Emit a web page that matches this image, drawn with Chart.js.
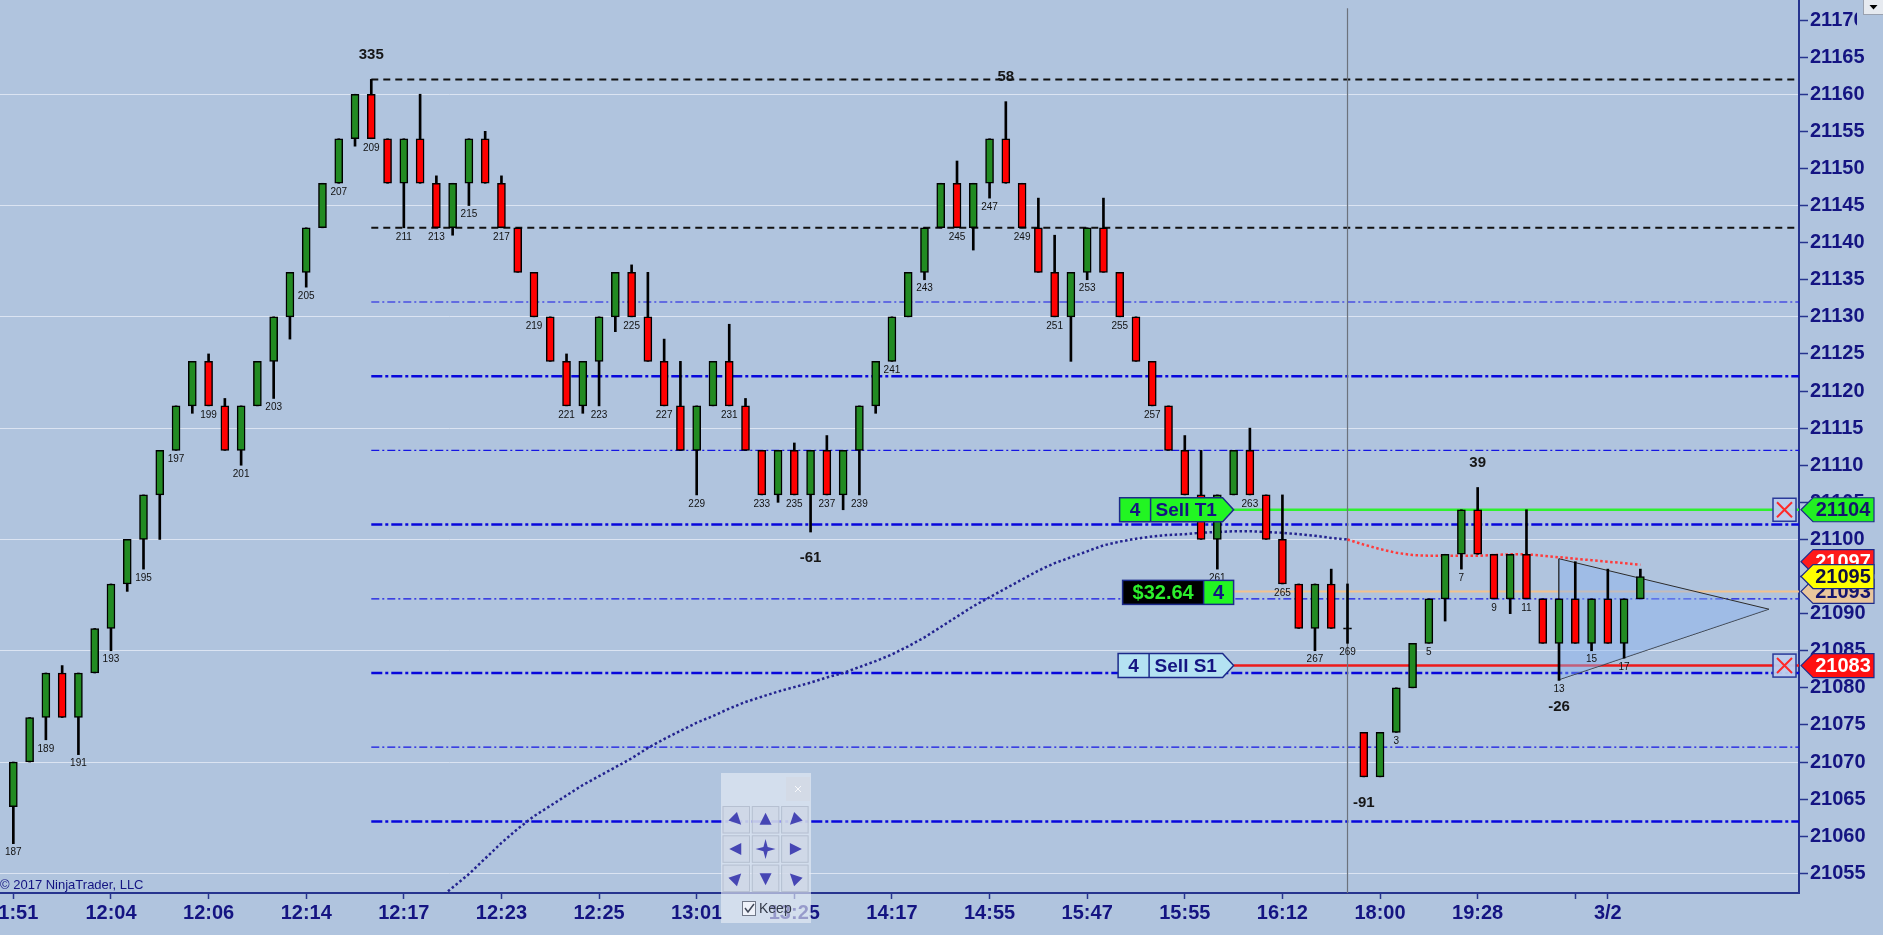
<!DOCTYPE html>
<html>
<head>
<meta charset="utf-8">
<script src="https://cdn.jsdelivr.net/npm/chart.js@4.4.0/dist/chart.umd.min.js"></script>
<style>
html, body { margin: 0; padding: 0; background: #b0c4de; overflow: hidden; }
#wrap { position: relative; width: 1883px; height: 935px; }
</style>
</head>
<body>
<div id="wrap"><canvas id="chart" width="1883" height="935"></canvas></div>
<script>
// candle data (bars 187..269 of the first session, then 1..18 of the next)
const opens  = [21064,21070,21076,21082,21076,21082,21088,21094,21100,21106,21112,21118,21124,21118,21112,21118,21124,21130,21136,21142,
                21148,21154,21160,21154,21148,21154,21148,21142,21148,21154,21148,21142,21136,21130,21124,21118,21124,21130,21136,21130,
                21124,21118,21112,21118,21124,21118,21112,21106,21112,21106,21112,21106,21112,21118,21124,21130,21136,21142,21148,21142,
                21148,21154,21148,21142,21136,21130,21136,21142,21136,21130,21124,21118,21112,21106,21100,21106,21112,21106,21100,21094,
                21088,21094,21088,21074,21068,21074,21080,21086,21092,21098,21104,21098,21092,21098,21092,21086,21092,21086,21092,21086,
                21092];
const closes = [21070,21076,21082,21076,21082,21088,21094,21100,21106,21112,21118,21124,21118,21112,21118,21124,21130,21136,21142,21148,
                21154,21160,21154,21148,21154,21148,21142,21148,21154,21148,21142,21136,21130,21124,21118,21124,21130,21136,21130,21124,
                21118,21112,21118,21124,21118,21112,21106,21112,21106,21112,21106,21112,21118,21124,21130,21136,21142,21148,21142,21148,
                21154,21148,21142,21136,21130,21136,21142,21136,21130,21124,21118,21112,21106,21100,21106,21112,21106,21100,21094,21088,
                21094,21088,21088,21068,21074,21080,21086,21092,21098,21104,21098,21092,21098,21092,21086,21092,21086,21092,21086,21092,
                21095];
const highs  = [21070,21076,21082,21083,21082,21088,21094,21100,21106,21112,21118,21124,21125,21119,21118,21124,21130,21136,21142,21148,
                21154,21160,21162,21154,21154,21160,21149,21148,21154,21155,21149,21142,21136,21130,21125,21124,21130,21136,21137,21136,
                21127,21124,21118,21124,21129,21119,21112,21112,21113,21112,21114,21112,21118,21124,21130,21136,21142,21148,21151,21148,
                21154,21159,21148,21146,21141,21136,21142,21146,21136,21130,21124,21118,21114,21112,21106,21112,21115,21106,21106,21094,
                21094,21096,21094,21074,21074,21080,21086,21092,21098,21104,21107,21098,21098,21104,21092,21092,21097,21092,21096,21092,
                21096];
const lows   = [21059,21070,21073,21076,21071,21082,21085,21093,21096,21100,21112,21117,21118,21112,21110,21118,21119,21127,21134,21142,
                21148,21153,21154,21148,21142,21148,21142,21141,21145,21148,21142,21136,21130,21124,21118,21117,21118,21128,21130,21124,
                21118,21112,21106,21118,21118,21112,21106,21105,21106,21101,21106,21104,21106,21117,21124,21130,21135,21142,21142,21139,
                21146,21148,21142,21136,21130,21124,21135,21136,21130,21124,21118,21112,21106,21100,21096,21106,21106,21100,21094,21088,
                21085,21088,21086,21068,21068,21074,21080,21086,21089,21096,21098,21092,21090,21092,21086,21081,21086,21085,21086,21084,
                21092];
const firstBarNumber = 187;
const sessionBreakBar = 82;

// moving average (blue up to the session break, red after it)
const maBlueStart = 26;
const maBlue = [21051.3,21053.1,21054.9,21057.0,21059.1,21061.0,21062.7,21064.1,21065.5,21066.9,21068.1,21069.3,21070.5,21071.9,
                21073.1,21074.2,21075.3,21076.2,21077.2,21078.1,21078.8,21079.5,21080.1,21080.7,21081.4,21082.0,21082.8,21083.6,
                21084.5,21085.6,21086.8,21088.2,21089.6,21091.0,21092.2,21093.4,21094.6,21095.8,21096.8,21097.6,21098.4,21099.2,
                21099.7,21100.1,21100.4,21100.6,21100.7,21100.9,21101.0,21101.1,21101.1,21101.0,21100.9,21100.7,21100.5,21100.2,21100.0];
const maRedStart = 82;
const maRed = [21100.0,21099.3,21098.7,21098.2,21097.9,21097.8,21097.8,21097.8,21097.8,21097.9,21098.0,21098.0,21097.8,
               21097.6,21097.4,21097.2,21097.0,21096.8,21096.6];

// x axis tick labels
const xTickBars = [0, 6, 12, 18, 24, 30, 36, 42, 48, 54, 60, 66, 72, 78, 84, 90, 96, 98];
const xTickLabels = ['11:51','12:04','12:06','12:14','12:17','12:23','12:25','13:01','13:25','14:17','14:55','15:47','15:55','16:12','18:00','19:28','','3/2'];

// drawn levels
const levelStartBar = 22;
const blackLevels = [21162, 21142];
const blueThickLevels = [21122, 21102, 21082, 21062];
const blueThinLevels = [21132, 21112, 21092, 21072];
const tradeStartBar = 75;
const targetPrice = 21104, stopPrice = 21083, avgPrice = 21093;

// triangle drawing
const triLeftBar = 95, triTipBar = 107.9;
const triTop = 21097.4, triBottom = 21081.1, triTip = 21090.6;

const swingLabels = [
  {bar: 22, text: '335', high: true}, {bar: 61, text: '58', high: true}, {bar: 90, text: '39', high: true},
  {bar: 49, text: '-61', high: false}, {bar: 83, text: '-91', high: false}, {bar: 95, text: '-26', high: false}
];

const priceTags = [
  {v: 21093, fill: '#e9c69c', text: '#14146e'},
  {v: 21097, fill: '#ff1a1a', text: '#ffffff'},
  {v: 21095, fill: '#ffff00', text: '#101040'},
  {v: 21104, fill: '#22f022', text: '#14146e'},
  {v: 21083, fill: '#ff1010', text: '#ffffff'}
];

const xMin = -0.82, xMax = 109.75, yMin = 21052.35, yMax = 21172.7;
const navy = '#141482';
const axisNavy = '#26348e';

function seg(v, from, to) {
  return [{x: from, y: v}, {x: to, y: v}];
}

function lineSet(data, color, width, dash, order, extra) {
  return Object.assign({
    type: 'line', data: data, borderColor: color, borderWidth: width, borderDash: dash,
    pointRadius: 0, fill: false, tension: 0, order: order, borderCapStyle: 'butt'
  }, extra || {});
}

const datasets = [];
blackLevels.forEach(v => datasets.push(lineSet(seg(v, levelStartBar, xMax), '#111111', 2, [7, 5], 20)));
blueThickLevels.forEach(v => datasets.push(lineSet(seg(v, levelStartBar, xMax), '#0808dc', 2.5, [11, 3, 3, 3], 20)));
blueThinLevels.forEach(v => datasets.push(lineSet(seg(v, levelStartBar, xMax), '#1414e4', 1.2, [8, 3, 2, 3], 20)));
datasets.push(lineSet(seg(avgPrice, tradeStartBar, xMax), '#f2c28e', 2, [], 19));
datasets.push(lineSet(seg(targetPrice, tradeStartBar, xMax), '#2ef02e', 2.5, [], 19));
datasets.push(lineSet(seg(stopPrice, tradeStartBar, xMax), '#ee1a1a', 2.5, [], 19));
datasets.push(lineSet([{x: sessionBreakBar, y: 21171.6}, {x: sessionBreakBar, y: yMin}], '#6c727c', 1.2, [], 18));
datasets.push(lineSet([{x: triLeftBar, y: triTop}, {x: triTipBar, y: triTip}], '#2b2b2b', 1, [], 15,
  {fill: '+1', backgroundColor: 'rgba(140,180,240,0.45)'}));
datasets.push(lineSet([{x: triLeftBar, y: triBottom}, {x: triTipBar, y: triTip}], '#2b2b2b', 1, [], 15));
datasets.push(lineSet([{x: triLeftBar, y: triTop}, {x: triLeftBar, y: triBottom}], '#2b2b2b', 1, [], 15));
datasets.push(lineSet(maBlue.map((v, k) => ({x: maBlueStart + k, y: v})), '#23238f', 2.5, [2.5, 2.5], 12));
datasets.push(lineSet(maRed.map((v, k) => ({x: maRedStart + k, y: v})), '#ff3b3b', 2.5, [2.5, 2.5], 12));

// wicks and bodies
datasets.push({
  type: 'bar', data: closes.map((c, i) => ({x: i, y: [lows[i], highs[i]]})),
  backgroundColor: '#000', barThickness: 2, grouped: false, order: 5
});
datasets.push({
  type: 'bar',
  data: closes.map((c, i) => ({x: i, y: c === opens[i] ? [c - 0.1, c + 0.1] : [opens[i], c]})),
  backgroundColor: ctx => {
    const i = ctx.dataIndex;
    if (closes[i] > opens[i]) return '#228b22';
    if (closes[i] < opens[i]) return '#ff0000';
    return '#000';
  },
  borderColor: '#000', borderWidth: 1.5, borderSkipped: false, barThickness: 8, grouped: false, order: 4
});

function poly(ctx, pts, fill, stroke, lw) {
  ctx.beginPath();
  pts.forEach((p, k) => k ? ctx.lineTo(p[0], p[1]) : ctx.moveTo(p[0], p[1]));
  ctx.closePath();
  ctx.fillStyle = fill;
  ctx.fill();
  if (stroke) { ctx.strokeStyle = stroke; ctx.lineWidth = lw || 1.5; ctx.stroke(); }
}

function arrowBox(ctx, left, tip, cy, fill) {
  const r = tip - 11;
  poly(ctx, [[left, cy - 12], [r, cy - 12], [tip, cy], [r, cy + 12], [left, cy + 12]], fill, '#1c2a8a', 1.5);
}

function drawWidget(ctx) {
  ctx.fillStyle = 'rgba(232,237,247,0.62)';
  ctx.fillRect(721, 773, 90, 150);
  ctx.fillStyle = 'rgba(212,218,230,0.9)';
  ctx.fillRect(786, 777, 24, 24);
  ctx.strokeStyle = 'rgba(255,255,255,0.8)';
  ctx.lineWidth = 1;
  ctx.beginPath();
  ctx.moveTo(795, 786); ctx.lineTo(801, 792); ctx.moveTo(801, 786); ctx.lineTo(795, 792);
  ctx.stroke();
  const dirs = [Math.PI / 4, -Math.PI / 2, 3 * Math.PI / 4, Math.PI, null, 0, -Math.PI / 4, Math.PI / 2, -3 * Math.PI / 4];
  for (let r = 0; r < 3; r++) {
    for (let c = 0; c < 3; c++) {
      const bx = 722.5 + c * 29.3, by = 806 + r * 29.3;
      ctx.fillStyle = 'rgba(205,214,230,0.75)';
      ctx.fillRect(bx, by, 27.5, 27.5);
      ctx.strokeStyle = 'rgba(178,188,206,0.9)';
      ctx.strokeRect(bx + 0.5, by + 0.5, 26.5, 26.5);
      const cx = bx + 13.75, cy = by + 13.75;
      const a = dirs[r * 3 + c];
      ctx.fillStyle = '#4646b4';
      ctx.beginPath();
      if (a === null) {
        for (let k = 0; k < 8; k++) {
          const ang = k * Math.PI / 4 - Math.PI / 2;
          const rad = k % 2 === 0 ? 10 : 3;
          const px = cx + Math.cos(ang) * rad, py = cy + Math.sin(ang) * rad;
          k ? ctx.lineTo(px, py) : ctx.moveTo(px, py);
        }
      } else {
        const ca = Math.cos(a), sa = Math.sin(a);
        ctx.moveTo(cx + ca * 7, cy + sa * 7);
        ctx.lineTo(cx - ca * 5 - sa * 6, cy - sa * 5 + ca * 6);
        ctx.lineTo(cx - ca * 5 + sa * 6, cy - sa * 5 - ca * 6);
      }
      ctx.closePath();
      ctx.fill();
    }
  }
  ctx.fillStyle = 'rgba(245,247,252,0.8)';
  ctx.fillRect(742, 901, 14, 15);
  ctx.strokeStyle = '#707888';
  ctx.strokeRect(742.5, 901.5, 13, 14);
  ctx.strokeStyle = '#404858';
  ctx.lineWidth = 1.5;
  ctx.beginPath();
  ctx.moveTo(745, 908); ctx.lineTo(748, 912); ctx.lineTo(754, 904);
  ctx.stroke();
  ctx.fillStyle = '#333a48';
  ctx.font = '14px Arial';
  ctx.textAlign = 'left';
  ctx.textBaseline = 'middle';
  ctx.fillText('Keep', 759, 909);
}

const decor = {
  id: 'decor',
  afterDatasetsDraw(chart) {
    const {ctx, scales: {x, y}} = chart;
    ctx.save();
    ctx.textAlign = 'center';
    ctx.textBaseline = 'middle';
    ctx.font = '10px Arial';
    ctx.fillStyle = '#111';
    closes.forEach((c, i) => {
      const n = i <= sessionBreakBar ? firstBarNumber + i : i - sessionBreakBar;
      if (n % 2 === 0 || n === 1) return;
      ctx.fillText(String(n), x.getPixelForValue(i), y.getPixelForValue(lows[i]) + 9);
    });
    ctx.font = 'bold 15px Arial';
    ctx.fillStyle = '#161616';
    swingLabels.forEach(s => {
      const py = s.high ? y.getPixelForValue(highs[s.bar]) - 25 : y.getPixelForValue(lows[s.bar]) + 26;
      ctx.fillText(s.text, x.getPixelForValue(s.bar), py);
    });
    ctx.restore();
  },
  afterDraw(chart) {
    const {ctx, scales: {x, y}} = chart;
    ctx.save();
    const tip = x.getPixelForValue(tradeStartBar);
    ctx.textBaseline = 'middle';

    // Sell T1
    let cy = y.getPixelForValue(targetPrice);
    arrowBox(ctx, tip - 114, tip, cy, '#22f522');
    ctx.strokeStyle = '#1c2a8a'; ctx.lineWidth = 1.5;
    ctx.beginPath(); ctx.moveTo(tip - 83, cy - 12); ctx.lineTo(tip - 83, cy + 12); ctx.stroke();
    ctx.font = 'bold 19px Arial'; ctx.fillStyle = navy;
    ctx.textAlign = 'center'; ctx.fillText('4', tip - 98.5, cy + 1);
    ctx.textAlign = 'left'; ctx.fillText('Sell T1', tip - 78, cy + 1);

    // position PnL
    cy = y.getPixelForValue(avgPrice) + 1;
    ctx.fillStyle = '#000'; ctx.fillRect(tip - 111, cy - 12, 81, 24);
    ctx.fillStyle = '#22f522'; ctx.fillRect(tip - 30, cy - 12, 30, 24);
    ctx.strokeStyle = '#1c2a8a'; ctx.strokeRect(tip - 111, cy - 12, 111, 24);
    ctx.beginPath(); ctx.moveTo(tip - 30, cy - 12); ctx.lineTo(tip - 30, cy + 12); ctx.stroke();
    ctx.font = 'bold 20px Arial'; ctx.textAlign = 'center';
    ctx.fillStyle = '#2cf02c'; ctx.fillText('$32.64', tip - 70.5, cy + 1);
    ctx.fillStyle = navy; ctx.fillText('4', tip - 15, cy + 1);

    // Sell S1
    cy = y.getPixelForValue(stopPrice);
    arrowBox(ctx, tip - 115.5, tip, cy, '#b4e2f2');
    ctx.strokeStyle = '#1c2a8a';
    ctx.beginPath(); ctx.moveTo(tip - 84.5, cy - 12); ctx.lineTo(tip - 84.5, cy + 12); ctx.stroke();
    ctx.font = 'bold 19px Arial'; ctx.fillStyle = navy;
    ctx.textAlign = 'center'; ctx.fillText('4', tip - 100, cy + 1);
    ctx.textAlign = 'left'; ctx.fillText('Sell S1', tip - 79, cy + 1);

    // cancel boxes
    [targetPrice, stopPrice].forEach(v => {
      const c = y.getPixelForValue(v);
      ctx.fillStyle = 'rgba(188,204,236,0.95)';
      ctx.fillRect(1773, c - 11.5, 23, 23);
      ctx.strokeStyle = '#2a3a9a'; ctx.lineWidth = 1.5;
      ctx.strokeRect(1773, c - 11.5, 23, 23);
      ctx.strokeStyle = '#ff2a2a'; ctx.lineWidth = 2;
      ctx.beginPath();
      ctx.moveTo(1777, c - 7.5); ctx.lineTo(1792, c + 7.5);
      ctx.moveTo(1792, c - 7.5); ctx.lineTo(1777, c + 7.5);
      ctx.stroke();
    });

    // price tags on the axis
    const ax = chart.chartArea.right + 2;
    ctx.font = 'bold 20px Arial'; ctx.textAlign = 'center';
    priceTags.forEach(t => {
      const c = y.getPixelForValue(t.v);
      poly(ctx, [[ax, c], [ax + 12, c - 12], [1874, c - 12], [1874, c + 12], [ax + 12, c + 12]], t.fill, '#1c2a8a', 1.2);
      ctx.fillStyle = t.text;
      ctx.fillText(String(t.v), 1843, c + 1);
    });

    drawWidget(ctx);

    // copyright
    ctx.fillStyle = navy;
    ctx.font = '13px Arial';
    ctx.textAlign = 'left';
    ctx.textBaseline = 'middle';
    ctx.fillText('\u00a9 2017 NinjaTrader, LLC', 0, 885);

    // top label is clipped by the corner panel, then the dropdown button
    ctx.fillStyle = '#b0c4de';
    ctx.fillRect(1857, 6, 26, 30);
    ctx.fillStyle = '#e6eaf0';
    ctx.fillRect(1863, 0, 20, 15);
    ctx.strokeStyle = '#9aa2b0'; ctx.lineWidth = 1;
    ctx.strokeRect(1863.5, -0.5, 20, 15);
    poly(ctx, [[1869.5, 5], [1877.5, 5], [1873.5, 9.5]], '#000');
    ctx.restore();
  }
};

new Chart(document.getElementById('chart'), {
  type: 'bar',
  data: {datasets: datasets},
  options: {
    responsive: false,
    animation: false,
    events: [],
    layout: {padding: 0},
    plugins: {legend: {display: false}, tooltip: {enabled: false}},
    scales: {
      x: {
        type: 'linear', position: 'bottom', min: xMin, max: xMax, offset: false, bounds: 'data',
        afterBuildTicks: s => { s.ticks = xTickBars.map(v => ({value: v})); },
        afterFit: s => { s.height = 42; s.paddingLeft = 0; s.paddingRight = 0; },
        grid: {offset: false, drawOnChartArea: false, drawTicks: true, tickLength: 6, tickColor: axisNavy, tickWidth: 1.5},
        border: {display: true, color: axisNavy, width: 2},
        ticks: {
          autoSkip: false, maxRotation: 0, padding: 2, color: navy,
          font: {family: 'Arial', size: 20, weight: 'bold'},
          callback: (v, i) => xTickLabels[i]
        }
      },
      y: {
        type: 'linear', position: 'right', min: yMin, max: yMax, beginAtZero: false, bounds: 'ticks',
        afterFit: s => { s.width = 84; s.paddingTop = 0; s.paddingBottom = 0; },
        grid: {
          color: c => (c.tick && c.tick.value % 15 === 10) ? 'rgba(230,236,246,0.8)' : 'rgba(0,0,0,0)',
          lineWidth: 1, drawTicks: true, tickLength: 9, tickColor: axisNavy, tickWidth: 1.5
        },
        border: {display: true, color: axisNavy, width: 2},
        ticks: {
          stepSize: 5, includeBounds: false, autoSkip: false, padding: 2, color: navy,
          font: {family: 'Arial', size: 20, weight: 'bold'},
          callback: v => String(v)
        }
      }
    }
  },
  plugins: [decor]
});
</script>
</body>
</html>
